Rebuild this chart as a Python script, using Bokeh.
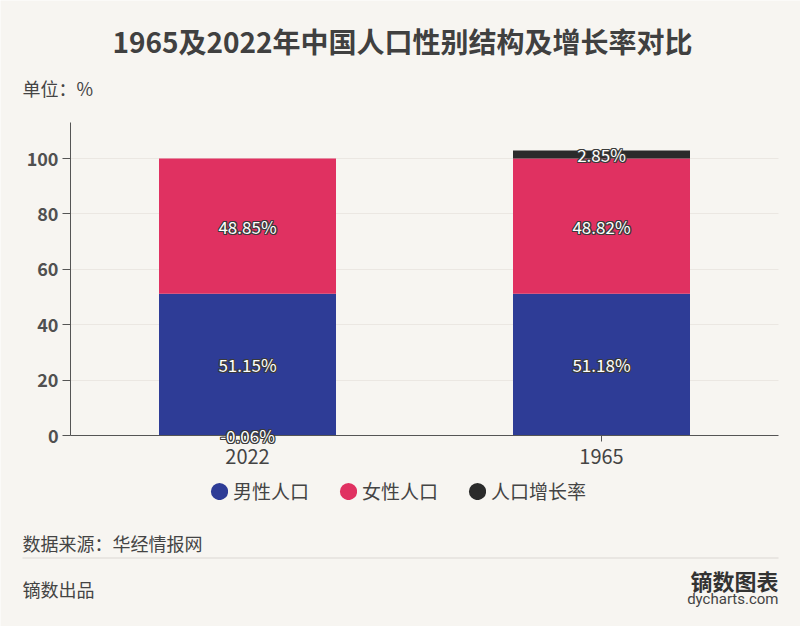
import numpy as np
from bokeh.plotting import figure
from bokeh.models import (ColumnDataSource, Range1d, FixedTicker, Label, Legend,
                          LegendItem, BoxAnnotation)
from bokeh.core.properties import value
from bokeh.embed import file_html
from bokeh.resources import INLINE

# ---- data ----
categories = ["2022", "1965"]
male = [51.15, 51.18]
female = [48.85, 48.82]
growth = [-0.06, 2.85]
series_names = ["男性人口", "女性人口", "人口增长率"]
y_ticks = [0, 20, 40, 60, 80, 100]

colors = ["#2e3c96", "#e03161", "#2b2b2b"]
FONT = "Noto Sans CJK SC"
BG = "#f7f5f1"
W, H = 800, 626

# plot area in page pixels (axes drawn inside a full-canvas frame)
AX_L, AX_R, AX_B, AX_T = 70, 778, 435, 122
Y_MAX = 113.0
n = len(categories)
xs_per_px = n / (AX_R - AX_L)
ys_per_px = Y_MAX / (AX_B - AX_T)
x_range = Range1d(-AX_L * xs_per_px, n + (W - AX_R) * xs_per_px)
y_range = Range1d(-(H - AX_B) * ys_per_px, Y_MAX + AX_T * ys_per_px)

p = figure(width=W, height=H, x_range=x_range, y_range=y_range,
           output_backend="svg", toolbar_location=None, min_border=0)
p.background_fill_color = BG
p.border_fill_color = BG
p.outline_line_color = None

xpos = np.arange(n) + 0.5

series = [male, female, growth]
pos = np.zeros(n)
neg = np.zeros(n)
lab_x, lab_y, lab_t = [], [], []
for vals, col in zip(series, colors):
    v = np.array(vals, dtype=float)
    bottom = np.where(v >= 0, pos, neg)
    topv = bottom + v
    pos = np.where(v >= 0, topv, pos)
    neg = np.where(v < 0, topv, neg)
    src = ColumnDataSource(dict(x=xpos, top=topv, bottom=bottom))
    p.vbar(x="x", top="top", bottom="bottom", width=0.5, source=src,
           fill_color=col, line_color=None)
    lab_x += list(xpos)
    lab_y += list((topv + bottom) / 2)
    lab_t += [f"{a:.2f}%" for a in v]

# axes drawn at fixed locations inside the frame
p.yaxis.fixed_location = 0
p.yaxis.bounds = (0, Y_MAX)
p.yaxis.ticker = FixedTicker(ticks=y_ticks)
p.yaxis.axis_line_color = "#555555"
p.yaxis.major_tick_line_color = "#555555"
p.yaxis.major_tick_out = 8
p.yaxis.major_tick_in = 0
p.yaxis.minor_tick_line_color = None
p.yaxis.major_label_standoff = 4
p.yaxis.major_label_text_font = FONT
p.yaxis.major_label_text_font_size = "18px"
p.yaxis.major_label_text_font_style = "bold"
p.yaxis.major_label_text_color = "#505050"

p.xaxis.fixed_location = 0
p.xaxis.bounds = (0, n)
p.xaxis.ticker = FixedTicker(ticks=list(xpos))
p.xaxis.major_label_overrides = {float(x): c for x, c in zip(xpos, categories)}
p.xaxis.axis_line_color = "#555555"
p.xaxis.major_tick_line_color = "#555555"
p.xaxis.major_tick_out = 6
p.xaxis.major_tick_in = 0
p.xaxis.minor_tick_line_color = None
p.xaxis.major_label_standoff = 7
p.xaxis.major_label_text_font = FONT
p.xaxis.major_label_text_font_size = "20px"
p.xaxis.major_label_text_color = "#444444"

p.xgrid.visible = False
p.ygrid.grid_line_color = "#ebe7e2"
p.ygrid.ticker = FixedTicker(ticks=y_ticks[1:])
try:
    p.ygrid.cross_bounds = (0, n)
except Exception:
    pass

# value labels: dark halo (offset copies) then white text, above the axes
lsrc = ColumnDataSource(dict(x=lab_x, y=lab_y, t=lab_t))
for dx, dy in [(-1, 0), (1, 0), (0, -1), (0, 1), (-1, -1), (1, 1), (-1, 1), (1, -1)]:
    p.text(x="x", y="y", text="t", source=lsrc, text_align="center",
           text_baseline="middle", text_color="#3a3a3a", text_font=value(FONT),
           text_font_size="17px", x_offset=dx, y_offset=dy, level="annotation")
p.text(x="x", y="y", text="t", source=lsrc, text_align="center",
       text_baseline="middle", text_color="white", text_font=value(FONT),
       text_font_size="17px", level="annotation")

# legend
leg_items = []
for name, col in zip(series_names, colors):
    r = p.scatter(x=[0.0], y=[np.nan], marker="circle", size=8, fill_color=col,
                  line_color=col, line_width=10)
    leg_items.append(LegendItem(label=name, renderers=[r]))
legend = Legend(items=leg_items, orientation="horizontal",
                location=(210, H - 504),
                padding=0, margin=0, spacing=30, glyph_width=18, glyph_height=18,
                label_standoff=5, label_height=20,
                label_text_font=FONT, label_text_font_size="19px",
                label_text_color="#444444", background_fill_alpha=0,
                border_line_color=None)
p.add_layout(legend, "center")


def lab(text, px, py, size, align="left", bold=False, color="#444444", font=FONT):
    p.add_layout(Label(x=px, y=H - py, x_units="screen", y_units="screen",
                       text=text, text_font=font, text_font_size=size,
                       text_align=align, text_baseline="middle",
                       text_font_style="bold" if bold else "normal",
                       text_color=color))


lab("1965及2022年中国人口性别结构及增长率对比", 402, 40, "28px", "center", True, "#404040")
lab("单位：%", 22, 87, "18px")
lab("数据来源：华经情报网", 22, 542, "18px")
lab("镝数出品", 22, 588, "18px")
lab("镝数图表", 778, 579, "22px", "right", True, "#333333")
lab("dycharts.com", 778, 598, "15px", "right", False, "#444444", "Roboto")

p.add_layout(BoxAnnotation(left=22, right=778, top=H - 557, bottom=H - 558,
                           left_units="screen", right_units="screen",
                           top_units="screen", bottom_units="screen",
                           fill_color="#dcd8d3", fill_alpha=1, line_color=None))

open("out.html", "w").write(file_html(p, INLINE))
